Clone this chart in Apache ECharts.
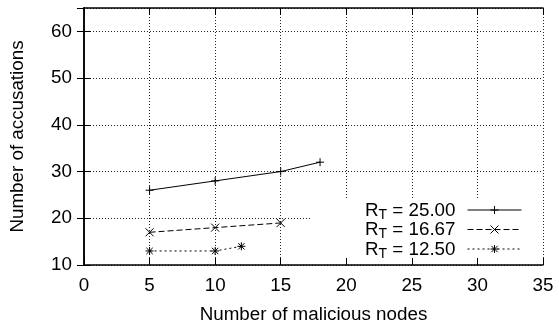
<!DOCTYPE html>
<html>
<head>
<meta charset="utf-8">
<script src="https://cdn.jsdelivr.net/npm/echarts@6/dist/echarts.min.js"></script>
<style>
  html, body { margin: 0; padding: 0; background: #fff; }
  #chart { width: 559px; height: 323px; }
</style>
</head>
<body>
<div id="chart"></div>
<script>
// Accusations counted against malicious nodes, for three trust thresholds R_T
const thresholds = ['25.00', '16.67', '12.50'];
const nodes25 = [5, 10, 15, 18];
const acc25 = [26, 28, 30, 32];
const nodes1667 = [5, 10, 15];
const acc1667 = [17, 18, 19];
const nodes125 = [5, 10, 12];
const acc125 = [13, 13, 14];

const xTitle = 'Number of malicious nodes';
const yTitle = 'Number of accusations';

const FONT = '"Liberation Sans", Arial, Helvetica, sans-serif';
const FS = 18.8;
const X_RANGE = { min: 0, max: 35, interval: 5 };
const Y_RANGE = { min: 10, max: 65, interval: 10 };

// gnuplot-style point glyphs: plus, cross, asterisk
const PLUS = 'path://M0,5L10,5M5,0L5,10';
const CROSS = 'path://M0,0L10,10M10,0L0,10';
const STAR = 'path://M0,5L10,5M5,0L5,10M1,1L9,9M9,1L1,9';

function zip(xs, ys) { return xs.map((x, i) => [x, ys[i]]); }

const chart = echarts.init(document.getElementById('chart'), null, { renderer: 'canvas' });

const frameLine = { show: true, lineStyle: { color: '#000', width: 1.5 } };
const innerTick = { show: true, inside: true, length: 7, lineStyle: { color: '#000', width: 1 } };
const gridDots = { show: true, lineStyle: { color: '#222', width: 1, type: [1, 2] } };

function markStyle(dash, symbol) {
  return {
    symbol: symbol,
    symbolSize: 8,
    showAllSymbol: true,
    lineStyle: { color: '#000', width: 1, type: dash },
    itemStyle: { color: 'none', borderColor: '#000', borderWidth: 1 },
    emphasis: { disabled: true },
    z: 3
  };
}

const option = {
  backgroundColor: '#fff',
  animation: false,
  textStyle: { fontFamily: FONT },
  grid: { left: 84, right: 16, top: 8, bottom: 58, containLabel: false, outerBoundsMode: 'none' },
  xAxis: [
    // labelled bottom axis with the frame edge and inward ticks
    Object.assign({ type: 'value', position: 'bottom', z: 5,
      axisLine: frameLine, axisTick: innerTick, splitLine: { show: false },
      axisLabel: { color: '#000', fontSize: FS, fontFamily: FONT, margin: 11 },
      name: xTitle, nameLocation: 'middle', nameGap: 40,
      nameTextStyle: { color: '#000', fontSize: FS, fontFamily: FONT } }, X_RANGE),
    // mirrored top edge
    Object.assign({ type: 'value', position: 'top', z: 5,
      axisLine: frameLine, axisTick: innerTick, splitLine: { show: false },
      axisLabel: { show: false } }, X_RANGE),
    // dotted grid only
    Object.assign({ type: 'value', position: 'bottom', z: 0,
      axisLine: { show: false }, axisTick: { show: false },
      axisLabel: { show: false }, splitLine: gridDots }, X_RANGE)
  ],
  yAxis: [
    Object.assign({ type: 'value', position: 'left', z: 5,
      axisLine: frameLine, axisTick: innerTick, splitLine: { show: false },
      axisLabel: { color: '#000', fontSize: FS, fontFamily: FONT, margin: 12, showMaxLabel: false },
      name: yTitle, nameLocation: 'middle', nameGap: 57, nameRotate: 90,
      nameTextStyle: { color: '#000', fontSize: FS, fontFamily: FONT } }, Y_RANGE),
    Object.assign({ type: 'value', position: 'right', z: 5,
      axisLine: frameLine, axisTick: innerTick, splitLine: { show: false },
      axisLabel: { show: false } }, Y_RANGE),
    Object.assign({ type: 'value', position: 'left', z: 0,
      axisLine: { show: false }, axisTick: { show: false },
      axisLabel: { show: false }, splitLine: gridDots }, Y_RANGE)
  ],
  // blank key box that hides the grid behind the legend
  graphic: [{
    type: 'rect', z: 1, silent: true,
    shape: { x: 310, y: 200, width: 232, height: 64 },
    style: { fill: '#fff' }
  }],
  legend: {
    orient: 'vertical',
    right: 37,
    top: 201,
    align: 'right',
    itemWidth: 54,
    itemHeight: 10,
    itemGap: -1.5,
    padding: 0,
    selectedMode: false,
    z: 6,
    data: thresholds,
    lineStyle: { width: 1, color: '#000' },
    itemStyle: { color: 'none', borderColor: '#000', borderWidth: 1 },
    formatter: (name) => '{r|R}{t|T}{v| = ' + name + '}',
    textStyle: {
      color: '#000',
      fontFamily: FONT,
      rich: {
        r: { fontSize: FS, lineHeight: 18, verticalAlign: 'top', fontFamily: FONT, color: '#000' },
        t: { fontSize: 14, lineHeight: 14, verticalAlign: 'top', padding: [7, 0, 0, 0], fontFamily: FONT, color: '#000' },
        v: { fontSize: FS, lineHeight: 18, verticalAlign: 'top', padding: [0, 7, 0, 0], fontFamily: FONT, color: '#000' }
      }
    }
  },
  series: [
    Object.assign({ type: 'line', name: thresholds[0], data: zip(nodes25, acc25) }, markStyle('solid', PLUS)),
    Object.assign({ type: 'line', name: thresholds[1], data: zip(nodes1667, acc1667) }, markStyle([6, 3], CROSS)),
    Object.assign({ type: 'line', name: thresholds[2], data: zip(nodes125, acc125) }, markStyle([2, 3], STAR))
  ]
};

chart.setOption(option);
</script>
</body>
</html>
